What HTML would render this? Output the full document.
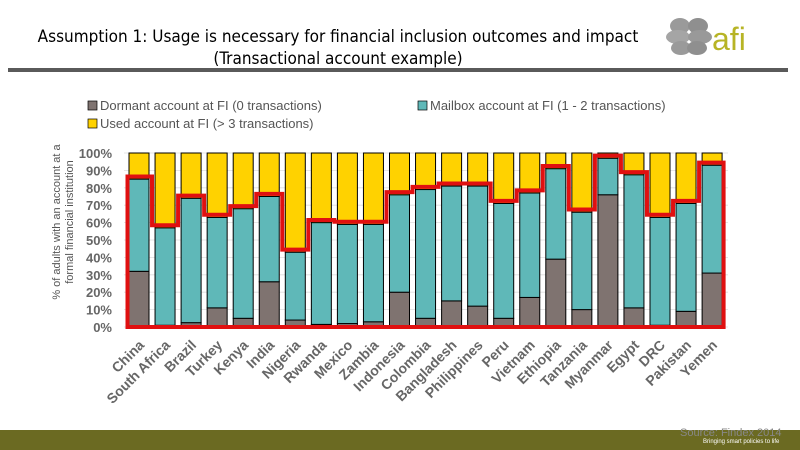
<!DOCTYPE html>
<html><head><meta charset="utf-8"><style>
html,body{margin:0;padding:0;background:#fff;width:800px;height:450px;overflow:hidden}
svg{display:block}
</style></head><body>
<svg id="chart" width="800" height="450" viewBox="0 0 800 450" xmlns="http://www.w3.org/2000/svg">
<g font-family="'DejaVu Sans Condensed','DejaVu Sans',sans-serif" font-size="17" fill="#000" text-anchor="middle">
<text x="338" y="42">Assumption 1: Usage is necessary for financial inclusion outcomes and impact</text>
<text x="338" y="64">(Transactional account example)</text>
</g>
<g>
<ellipse cx="680" cy="26" rx="10" ry="8" fill="#9a9a9a"/>
<ellipse cx="698" cy="26" rx="10" ry="8" fill="#8f8f8f"/>
<ellipse cx="678" cy="37" rx="12" ry="7" fill="#a5a5a5"/>
<ellipse cx="700" cy="37" rx="12" ry="7" fill="#999"/>
<ellipse cx="681" cy="48" rx="10" ry="7" fill="#9a9a9a"/>
<ellipse cx="697" cy="48" rx="10" ry="7" fill="#8f8f8f"/>
<text x="712" y="50" font-family="'Liberation Sans',sans-serif" font-size="32" fill="#b7b425">afi</text>
</g>
<rect x="8" y="68" width="780" height="4" fill="#5a5a5a"/>
<g font-family="'Liberation Sans',sans-serif" font-size="13" fill="#555">
<g><rect x="88" y="101" width="9" height="9" fill="#7f7370" stroke="#000" stroke-width="0.7"/><text x="100" y="110">Dormant account at FI (0 transactions)</text></g>
<g><rect x="418" y="101" width="9" height="9" fill="#5fb8b8" stroke="#000" stroke-width="0.7"/><text x="430" y="110">Mailbox account at FI (1 - 2 transactions)</text></g>
<g><rect x="88" y="119" width="9" height="9" fill="#ffd200" stroke="#000" stroke-width="0.7"/><text x="100" y="128">Used account at FI (&gt; 3 transactions)</text></g>
</g>
<g font-family="'Liberation Sans',sans-serif" font-size="11" fill="#555" text-anchor="middle">
<text transform="translate(60,222) rotate(-90)">% of adults with an account at a</text>
<text transform="translate(73,222) rotate(-90)">formal financial institution</text>
</g>
<g id="grid"></g>
<g id="yticks" font-family="'Liberation Sans',sans-serif" font-size="13" font-weight="bold" fill="#666" text-anchor="end"></g>
<g id="bars"></g>
<g id="line"></g>
<g id="xlabels" font-family="'Liberation Sans',sans-serif" font-size="14" font-weight="bold" fill="#666" text-anchor="end"></g>
<rect x="0" y="430" width="800" height="20" fill="#6b6a22"/>
<text x="680" y="436" font-family="'Liberation Sans',sans-serif" font-size="11" fill="#888">Source: Findex 2014</text>
<text x="703" y="443" font-family="'Liberation Sans',sans-serif" font-size="6" fill="#fff">Bringing smart policies to life</text>
</svg>
<script>
const countries = ["China","South Africa","Brazil","Turkey","Kenya","India","Nigeria","Rwanda","Mexico","Zambia","Indonesia","Colombia","Bangladesh","Philippines","Peru","Vietnam","Ethiopia","Tanzania","Myanmar","Egypt","DRC","Pakistan","Yemen"];
const dormant = [32,1,2.5,11,5,26,4,1.5,2,3,20,5,15,12,5,17,39,10,76,11,1,9,31];
const mailbox = [53,56,71.5,52,63,49,39,58.5,57,56,56,74,66,69,66,60,52,56,21,76.5,62,62,62];
const yTicks = [0,10,20,30,40,50,60,70,80,90,100];
const NS="http://www.w3.org/2000/svg";
const y0=327, y100=153, x0=129, pitch=26.05, bw=20;
function yS(v){return y0-(y0-y100)*v/100;}
function xS(i){return x0+i*pitch;}
function mk(t,a,p){const e=document.createElementNS(NS,t);for(const k in a)e.setAttribute(k,a[k]);p.appendChild(e);return e;}
const grid=document.getElementById('grid'), yt=document.getElementById('yticks');
yTicks.forEach(v=>{
  const l=mk('line',{x1:124,x2:728,y1:yS(v),y2:yS(v),stroke:'#ddd','stroke-width':0.8},grid);
  
  
  const t=mk('text',{x:112,y:yS(v)+5},yt);t.textContent=v+'%';
  
  
});
const bars=document.getElementById('bars');
countries.forEach((c,i)=>{
  const x=xS(i), d=dormant[i], m=mailbox[i];
  const r1=mk('rect',{x:x,y:yS(d),width:bw,height:yS(0)-yS(d),fill:'#7f7370',stroke:'#000','stroke-width':1},bars);
  
  
  const r2=mk('rect',{x:x,y:yS(d+m),width:bw,height:yS(d)-yS(d+m),fill:'#5fb8b8',stroke:'#000','stroke-width':1},bars);
  
  
  const r3=mk('rect',{x:x,y:yS(100),width:bw,height:yS(d+m)-yS(100),fill:'#ffd200',stroke:'#000','stroke-width':1},bars);
  
  
});
let pts=[[xS(0)-1.5,yS(0)]];
countries.forEach((c,i)=>{
  const top=yS(dormant[i]+mailbox[i]+1.5);
  const xl=i===0?xS(0)-1.5:xS(i)-3, xr=i===countries.length-1?xS(i)+bw+1.5:xS(i)+bw+3;
  pts.push([xl,top]);pts.push([xr,top]);
});
pts.push([xS(countries.length-1)+bw+1.5,yS(0)]);
const pl=mk('polygon',{points:pts.map(p=>p.join(',')).join(' '),fill:'none',stroke:'#e01010','stroke-width':4,'stroke-linejoin':'miter'},document.getElementById('line'));


const xl=document.getElementById('xlabels');
countries.forEach((c,i)=>{
  const cx=xS(i)+bw/2+6, cy=346;
  const t=mk('text',{x:cx,y:cy,transform:`rotate(-45 ${cx} ${cy})`},xl);
  t.textContent=c;
  
  
});
</script>
</body></html>
